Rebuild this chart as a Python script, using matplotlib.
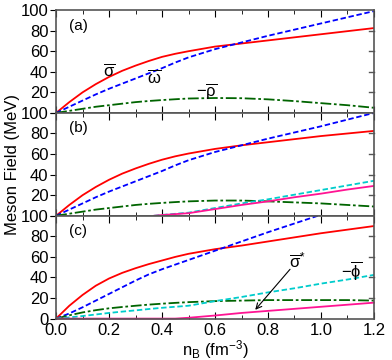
import numpy as np
import matplotlib
matplotlib.use("Agg")
import matplotlib.pyplot as plt

plt.rcParams['font.family'] = ['Liberation Sans', 'DejaVu Sans']
plt.rcParams['mathtext.fontset'] = 'custom'
plt.rcParams['mathtext.rm'] = 'Liberation Sans'
plt.rcParams['mathtext.it'] = 'Liberation Sans'
plt.rcParams['mathtext.bf'] = 'Liberation Sans:bold'

x = [0.0, 0.05, 0.1, 0.15, 0.2, 0.25, 0.3, 0.35, 0.4, 0.45, 0.5, 0.6, 0.7, 0.8, 0.9, 1.0, 1.1, 1.2]

# panel (a)
a_sigma = [0, 10.5, 20, 28, 35, 41, 46, 50.5, 54.5, 57.5, 60, 64.5, 67.5, 70.5, 73.5, 76.5, 79.5, 82.5]
a_omega = [0, 6, 12, 18, 23.5, 28.5, 33.5, 38.5, 43.5, 49, 54, 62, 68.5, 75, 81, 87, 93, 99]
a_rho = [0, 2, 4, 6, 7.5, 9, 10.5, 11.6, 12.5, 13.3, 14, 14.5, 14.3, 13.2, 11.5, 9.5, 7.5, 5]

# panel (b)
b_sigma = [0, 10.5, 20, 28, 35, 41, 46, 50.5, 54.5, 57.8, 60.5, 65, 68.5, 71.5, 74.5, 77.5, 80, 82.5]
b_omega = [0, 6, 12, 18, 23.5, 28.5, 33.5, 38.5, 43.5, 49, 54, 62, 68.5, 75, 81, 87, 93.5, 100]
b_rho = [0, 2, 4, 6, 7.5, 9, 10.5, 11.6, 12.5, 13.3, 14, 14.8, 14.8, 14, 13, 12, 10.5, 9]
b_x2 = [0.37, 0.4, 0.5, 0.6, 0.7, 0.8, 0.9, 1.0, 1.1, 1.2]
b_phi = [0, 0.8, 3, 7.5, 12, 16, 20.5, 25, 29.5, 34]
b_sstar = [0, 0.7, 2.5, 6.5, 10.5, 14, 18, 21.5, 25.5, 29]

# panel (c)
c_sigma = [0, 12.5, 23, 32, 39, 44.5, 49, 53, 56.5, 60, 63, 67.5, 71, 75, 79, 83, 86.5, 90]
c_x_omega = [0.0, 0.05, 0.1, 0.15, 0.2, 0.25, 0.3, 0.35, 0.4, 0.45, 0.5, 0.6, 0.7, 0.8, 0.9, 1.0]
c_omega = [0, 5, 11, 17.5, 24, 30.5, 37, 43, 48, 52.5, 57, 66, 75, 84, 92.5, 101]
c_rho = [0, 3.2, 6, 8.2, 10, 11.3, 12.5, 13.6, 14.5, 15.3, 16, 17, 17.5, 18, 18, 18, 18, 17.5]
c_phi = [0, 1.2, 2.5, 4, 5.5, 6.8, 8, 9.3, 10.5, 11.5, 12.5, 17, 21, 25.5, 29.5, 34, 38, 42.5]
c_x_sstar = [0.0, 0.45, 0.5, 0.6, 0.7, 0.8, 0.9, 1.0, 1.1, 1.2]
c_sstar = [0, 0, 0.8, 3, 5.5, 7.5, 9.5, 11.5, 13.5, 15.5]

red = '#ff0000'
blue = '#0000ff'
green = '#006400'
cyan = '#00cccc'
pink = '#ff1493'

fig = plt.figure(figsize=(3.92, 3.6), dpi=100)
gs = fig.add_gridspec(3, 1, left=0.143, right=0.954, top=0.972, bottom=0.115, hspace=0)
axes = [fig.add_subplot(gs[i]) for i in range(3)]

lw = 1.3
dash = (0, (3, 1.5))
dashdot = (0, (6, 1.5, 1.5, 1.5))

ax = axes[0]
ax.plot(x, a_sigma, color=red, lw=lw)
ax.plot(x, a_omega, color=blue, lw=lw, ls=dash)
ax.plot(x, a_rho, color=green, lw=lw, ls=dashdot)

ax = axes[1]
ax.plot(x, b_sigma, color=red, lw=lw)
ax.plot(x, b_omega, color=blue, lw=lw, ls=dash)
ax.plot(x, b_rho, color=green, lw=lw, ls=dashdot)
ax.plot(b_x2, b_phi, color=cyan, lw=lw, ls=dash)
ax.plot(b_x2, b_sstar, color=pink, lw=lw)

ax = axes[2]
ax.plot(x, c_sigma, color=red, lw=lw)
ax.plot(c_x_omega, c_omega, color=blue, lw=lw, ls=dash)
ax.plot(x, c_rho, color=green, lw=lw, ls=dashdot)
ax.plot(x, c_phi, color=cyan, lw=lw, ls=dash)
ax.plot(c_x_sstar, c_sstar, color=pink, lw=lw, clip_on=False)

labels = ['(a)', '(b)', '(c)']
for i, ax in enumerate(axes):
    ax.set_xlim(0, 1.2)
    ax.set_ylim(0, 100)
    ax.set_xticks(np.arange(0, 1.21, 0.2))
    ax.set_xticks(np.arange(0, 1.21, 0.1), minor=True)
    ax.set_yticks(np.arange(0, 101, 20))
    ax.tick_params(axis='x', which='both', direction='in', top=True, bottom=True, labelsize=12)
    ax.tick_params(axis='x', which='major', length=5, pad=3)
    ax.tick_params(axis='x', which='minor', length=3)
    ax.tick_params(axis='y', direction='out', length=4, labelsize=12, right=False, pad=1.5)
    for s in ax.spines.values():
        s.set_color('#555555')
        s.set_linewidth(1.2)
    for yv in range(20, 100, 20):
        ax.plot([1.2 - 0.02, 1.2], [yv, yv], color='#555555', lw=1, clip_on=False)
    if i < 2:
        ax.tick_params(axis='x', labelbottom=False)
        ax.set_yticklabels(['', '20', '40', '60', '80', '100'])
    else:
        ax.set_xticklabels(['0.0', '0.2', '0.4', '0.6', '0.8', '1.0', '1.2'])
    ax.text(0.05, 85, labels[i], fontsize=11, va='center', ha='left')

axes[0].text(0.2, 41.5, r'$\overline{\sigma}$', fontsize=12, ha='center', va='center')
axes[0].text(0.37, 35, r'$\overline{\omega}$', fontsize=12, ha='center', va='center')
axes[0].text(0.57, 21, r'$-\overline{\rho}$', fontsize=12, ha='center', va='center')

axes[2].text(0.91, 56, r'$\overline{\sigma}^{*}$', fontsize=12, ha='center', va='center')
axes[2].annotate('', xy=(0.745, 6.5), xytext=(0.89, 50),
                 arrowprops=dict(arrowstyle='->', color='black', lw=0.8))
axes[2].text(1.115, 47, r'$-\overline{\phi}$', fontsize=12, ha='center', va='center')

axes[2].set_xlabel(r'n$_\mathrm{B}$ (fm$^{-3}$)', fontsize=12, labelpad=0)
axes[1].set_ylabel('Meson Field (MeV)', fontsize=12)
axes[1].yaxis.set_label_coords(-0.113, 0.5)

fig.savefig('out.png', dpi=100)
